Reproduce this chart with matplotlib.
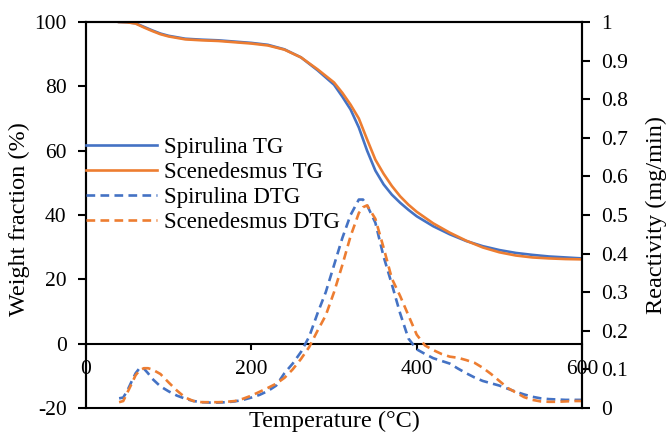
#!/usr/bin/env python3
# coding: utf-8

import matplotlib
matplotlib.use("Agg")
import matplotlib.pyplot as plt

# TG curves (weight fraction, %)
tg_temp = [40, 50, 60, 70, 80, 90, 100, 120, 140, 160, 180, 200, 220, 240, 260,
           280, 300, 310, 320, 330, 340, 350, 360, 370, 380, 390, 400, 420, 440,
           460, 480, 500, 520, 540, 560, 580, 600]
spirulina_tg = [100.0, 99.9, 99.6, 98.5, 97.4, 96.4, 95.7, 94.8, 94.5, 94.3, 93.9,
                93.5, 92.9, 91.5, 89.0, 85.0, 80.5, 76.8, 72.8, 67.2, 60.0, 53.8,
                49.5, 46.3, 43.8, 41.6, 39.6, 36.5, 34.0, 31.9, 30.3, 29.1, 28.2,
                27.6, 27.1, 26.8, 26.5]
scenedesmus_tg = [100.0, 99.9, 99.5, 98.3, 97.2, 96.2, 95.5, 94.6, 94.3, 94.1, 93.7,
                  93.3, 92.7, 91.4, 89.0, 85.3, 81.2, 78.0, 74.3, 70.0, 63.5, 57.2,
                  52.8, 49.0, 45.8, 43.2, 41.0, 37.4, 34.5, 32.0, 29.9, 28.4, 27.4,
                  26.8, 26.5, 26.3, 26.2]

# DTG curves (reactivity, mg/min)
dtg_temp = [40, 45, 50, 55, 60, 65, 70, 75, 80, 90, 100, 110, 120, 130, 140, 150,
            160, 170, 180, 190, 200, 210, 220, 230, 240, 250, 260, 270, 280, 290,
            300, 310, 320, 330, 335, 340, 350, 360, 370, 380, 390, 400, 410, 420,
            430, 440, 450, 460, 470, 480, 490, 500, 510, 520, 530, 540, 550, 560,
            570, 580, 590, 600]
spirulina_dtg = [0.025, 0.027, 0.045, 0.068, 0.090, 0.104, 0.102, 0.090, 0.076,
                 0.056, 0.043, 0.032, 0.024, 0.018, 0.015, 0.014, 0.014, 0.015,
                 0.017, 0.021, 0.027, 0.034, 0.044, 0.058, 0.090, 0.115, 0.145,
                 0.185, 0.245, 0.300, 0.370, 0.440, 0.500, 0.540, 0.540, 0.525,
                 0.480, 0.392, 0.320, 0.245, 0.180, 0.152, 0.140, 0.129, 0.122,
                 0.115, 0.102, 0.090, 0.079, 0.070, 0.064, 0.058, 0.050, 0.042,
                 0.035, 0.029, 0.025, 0.023, 0.022, 0.021, 0.021, 0.021]
scenedesmus_dtg = [0.015, 0.018, 0.040, 0.062, 0.085, 0.098, 0.103, 0.103, 0.100,
                   0.088, 0.066, 0.045, 0.027, 0.018, 0.015, 0.015, 0.015, 0.016,
                   0.018, 0.024, 0.032, 0.042, 0.052, 0.063, 0.078, 0.100, 0.127,
                   0.158, 0.200, 0.240, 0.300, 0.370, 0.445, 0.505, 0.520, 0.525,
                   0.490, 0.415, 0.335, 0.290, 0.240, 0.190, 0.162, 0.150, 0.140,
                   0.133, 0.130, 0.124, 0.117, 0.104, 0.088, 0.070, 0.052, 0.040,
                   0.028, 0.021, 0.017, 0.016, 0.016, 0.017, 0.018, 0.018]

x_ticks = [0, 200, 400, 600]
left_ticks = [-20, 0, 20, 40, 60, 80, 100]
right_ticks = [0, 0.1, 0.2, 0.3, 0.4, 0.5, 0.6, 0.7, 0.8, 0.9, 1]
right_labels = ["0", "0.1", "0.2", "0.3", "0.4", "0.5", "0.6", "0.7", "0.8", "0.9", "1"]

BLUE = "#4472C4"
ORANGE = "#ED7D31"

plt.rcParams["font.family"] = ["Liberation Serif", "DejaVu Serif"]
plt.rcParams["axes.unicode_minus"] = False

fig = plt.figure(figsize=(6.7, 4.32), dpi=100)
ax = fig.add_axes([0.1284, 0.0556, 0.7403, 0.8935])
ax2 = ax.twinx()

# TG on the left axis
l1, = ax.plot(tg_temp, spirulina_tg, color=BLUE, lw=1.9, label="Spirulina TG")
l2, = ax.plot(tg_temp, scenedesmus_tg, color=ORANGE, lw=1.9, label="Scenedesmus TG")

# DTG on the right axis
l3, = ax2.plot(dtg_temp, spirulina_dtg, color=BLUE, lw=1.9, ls=(0, (3.3, 2)),
               label="Spirulina DTG")
l4, = ax2.plot(dtg_temp, scenedesmus_dtg, color=ORANGE, lw=1.9, ls=(0, (3.3, 2)),
               label="Scenedesmus DTG")

ax.set_xlim(0, 600)
ax.set_ylim(-20, 100)
ax2.set_ylim(0, 1)

# x axis line sits at weight fraction 0
ax.spines["bottom"].set_position(("data", 0))
for s in ax.spines.values():
    s.set_linewidth(1.5)
for s in ax2.spines.values():
    s.set_linewidth(1.5)

ax.set_xticks(x_ticks)
ax.set_yticks(left_ticks)
ax2.set_yticks(right_ticks)
ax2.set_yticklabels(right_labels)

ax.tick_params(axis="x", direction="out", length=4, width=1.5, pad=8, labelsize=15.5)
ax.tick_params(axis="y", direction="out", length=6, width=1.5, pad=8, labelsize=15.5)
ax2.tick_params(axis="y", direction="out", length=6, width=1.5, pad=8, labelsize=15.5)

ax.set_xlabel("Temperature (°C)", fontsize=17.5, va="bottom")
ax.xaxis.set_label_coords(0.5, -0.062)
ax.set_ylabel("Weight fraction (%)", fontsize=17.5)
ax.yaxis.set_label_coords(-0.112, 0.49)
ax2.set_ylabel("Reactivity (mg/min)", fontsize=17.5)
ax2.yaxis.set_label_coords(1.128, 0.5)

ax2.legend(handles=[l1, l2, l3, l4], loc="center left",
           bbox_to_anchor=(0.0, 0.578), frameon=False, fontsize=16.5,
           handlelength=3.1, handletextpad=0.3, labelspacing=0.18,
           borderpad=0, borderaxespad=0)

fig.savefig("out.png", dpi=100)
